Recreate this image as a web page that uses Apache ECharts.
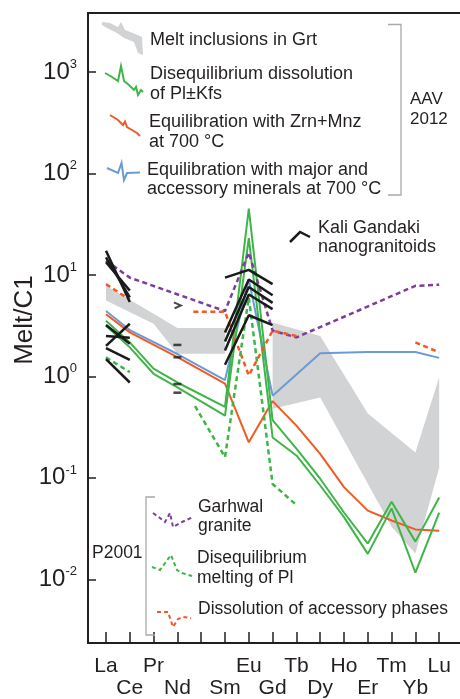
<!DOCTYPE html>
<html><head><meta charset="utf-8">
<script src="https://cdn.jsdelivr.net/npm/echarts@6/dist/echarts.min.js"></script>
<style>html,body{margin:0;padding:0;background:#fff}#c{width:460px;height:699px}</style>
</head><body><div id="c"></div>
<script>
// ---------- categories & ticks ----------
const REE = ['La','Ce','Pr','Nd','','Sm','Eu','Gd','Tb','Dy','Ho','Er','Tm','Yb','Lu'];
const X_TICKS = [0,1,2,3,4,5,6,7,8,9,10,11,12,13,14];
const X_LABELS_TOP_ROW = [0,2,6,8,10,12,14];
const X_LABELS_BOTTOM_ROW = [1,3,5,7,9,11,13];
const Y_TICKS = [0.01,0.1,1,10,100,1000];

// ---------- Melt inclusions in Grt (grey field) ----------
const meltUpperA = [[0,7.8],[2,4.15],[3,3.0],[5,3.0]];
const meltLowerA = [[0,5.6],[2,3.3],[3,1.67],[5,1.67]];
const meltUpperB = [[7,3.4],[9,2.5],[11,0.43],[13,0.178],[14,0.98]];
const meltLowerB = [[7,0.48],[9,0.62],[12,0.033],[13,0.018],[14,0.126]];

// ---------- AAV 2012 models ----------
const greenPlKfsA = [[0,3.54],[1,2.16],[2,1.19],[3,0.87],[5,0.5],[6,45],[7,0.37],[8,0.194],[9,0.098],[10,0.0455],[11,0.0225],[12,0.058],[13,0.0235],[14,0.064]];
const greenPlKfsB = [[0,3.16],[1,1.93],[2,1.06],[3,0.78],[5,0.41],[6,23],[7,0.25],[8,0.166],[9,0.084],[10,0.041],[11,0.0178],[12,0.05],[13,0.0116],[14,0.0455]];
const orangeZrnMnz = [[0,4.1],[1,2.71],[3,1.55],[5,0.85],[6,0.224],[7,0.57],[8,0.327],[9,0.172],[10,0.081],[11,0.0475],[12,0.038],[13,0.031],[14,0.030]];
const blueMajorAcc = [[0,4.4],[1,2.86],[3,1.66],[5,0.92],[6,9.0],[7,0.645],[9,1.69],[11,1.74],[13,1.74],[14,1.52]];

// ---------- P2001 ----------
const purpleGarhwal = [[0,13.8],[1,9.4],[5,4.4],[6,16.6],[7,2.82],[8,2.42],[13,7.8],[14,8.0]];
const greenDashA = [[0,1.54],[1,1.1]];
const greenDashB = [[3.74,0.51],[5,0.16],[6,6.0],[7,0.087],[8,0.054]];
const orangeDashA = [[0,8.1],[1,5.7]];
const orangeDashB = [[3.67,4.33],[5,4.33],[6,1.02],[7,2.82],[8,2.5]];
const orangeDashC = [[13,2.16],[14,1.72]];

// ---------- Kali Gandaki nanogranitoids ----------
const kgLaCe = [
  [[0,17.3],[1,5.4]], [[0,14.9],[1,6.0]], [[0,13.3],[1,7.0]],
  [[0,3.2],[1,2.1]], [[0,2.5],[1,2.4]], [[0,2.0],[1,3.3]],
  [[0,1.9],[1,1.45]], [[0,1.48],[1,0.87]]
];
const kgNd = [[3,2.04],[3,1.54],[3,0.84],[3,0.69]];
const kgNdChevron = [[3,5.0]];
const kgSmEuGd = [
  [[5,9.4],[6,11.2],[7,8.1]],
  [[5,2.7],[6,9.0],[7,6.3]],
  [[5,2.2],[6,7.6],[7,5.3]],
  [[5,1.8],[6,6.4],[7,4.6]],
  [[5,1.3],[6,4.0],[7,3.2]]
];

// ---------- styling ----------
const FONT = 'Liberation Sans, Arial, Helvetica, sans-serif';
const TXT = '#231f20';
const GREEN = '#3fb549', ORANGE = '#f15a24', BLUE = '#6a9bd8', PURPLE = '#7b3f9a', GREY = '#d1d3d4', BLK = '#1a1a1a', BRK = '#a7a9ac';

const bands = [
  {upper: meltUpperA, lower: meltLowerA},
  {upper: meltUpperB, lower: meltLowerB}
];

function ln(data, color, dashed, width, z) {
  return {type:'line', data, symbol:'none', silent:true, animation:false, z: z||3,
    lineStyle:{color, width: width||2, type: dashed ? [5,3.5] : 'solid', cap:'butt'}};
}

const series = [
  {type:'custom', silent:true, animation:false, z:1,
   data:[[0,1],[7,1]],
   renderItem:(params, api) => {
     const b = bands[params.dataIndex];
     const pts = b.upper.map(p=>api.coord(p)).concat(b.lower.slice().reverse().map(p=>api.coord(p)));
     return {type:'polygon', shape:{points:pts}, style:{fill:GREY}};
   }},
  ln(blueMajorAcc, BLUE),
  ln(orangeZrnMnz, ORANGE),
  ln(greenPlKfsA, GREEN),
  ln(greenPlKfsB, GREEN),
  ln(purpleGarhwal, PURPLE, true, 2.5, 4),
  ln(orangeDashA, ORANGE, true, 2.5, 4),
  ln(orangeDashB, ORANGE, true, 2.5, 4),
  ln(orangeDashC, ORANGE, true, 2.5, 4),
  ln(greenDashA, GREEN, true, 2.5, 4),
  ln(greenDashB, GREEN, true, 2.5, 4)
];
kgLaCe.concat(kgSmEuGd).forEach(d => series.push(ln(d, BLK, false, 2.5, 6)));
series.push({type:'scatter', data:kgNd, symbol:'rect', symbolSize:[8,2.5], silent:true, animation:false, z:6, itemStyle:{color:BLK}});
series.push({type:'scatter', data:kgNdChevron, symbol:'path://M0,0L10,4L1,8', symbolSize:[7,6], silent:true, animation:false, z:6,
  itemStyle:{color:'none', borderColor:BLK, borderWidth:2}});

function t(x, y, text, size) {
  return {type:'text', x, y, style:{text, fill:TXT, font: (size||18)+'px '+FONT, verticalAlign:'middle', align:'left'}, z:100};
}
function pl(points, stroke, dashed, w) {
  return {type:'polyline', shape:{points}, style:{stroke, lineWidth: w||2, fill:null, lineDash: dashed?[4,3]:null}, z:100};
}

const graphic = [
  {type:'polygon', shape:{points:[[102,22],[110,23],[118,27],[121,22],[125,30],[133,33],[142,37],[143,55],[138,53],[134,42],[124,38],[117,33],[107,28],[102,25]]}, style:{fill:GREY}, z:100},
  t(150,40.5,'Melt inclusions in Grt'),
  pl([[105,73],[112,77],[118,81],[121,66],[124,81],[129,85],[134,90],[136,87],[138,95],[141,90],[143,92]], GREEN),
  t(150,74,'Disequilibrium dissolution'),
  t(150,94,'of Pl±Kfs'),
  pl([[110,115],[118,120],[123,125],[125,121.5],[127,127],[132,130],[137,133],[140,136]], ORANGE),
  t(149,122,'Equilibration with Zrn+Mnz'),
  t(149,142,'at 700 °C'),
  pl([[107,168],[118,173],[121.5,163],[124,180],[127,173],[140,172.5]], BLUE),
  t(147,170.5,'Equilibration with major and'),
  t(147,189.5,'accessory minerals at 700 °C'),
  pl([[388,24.5],[401,24.5],[401,195],[388,195]], BRK, false, 1.3),
  t(410,99,'AAV',17),
  t(410,119.5,'2012',17),
  pl([[290,242],[300,232],[310,237]], BLK, false, 2.5),
  t(318,228,'Kali Gandaki'),
  t(318,247,'nanogranitoids'),
  pl([[155,497],[146,497],[146,635],[155,635]], BRK, false, 1.3),
  t(92,553,'P2001',17.5),
  pl([[153,513],[160,518],[165,522],[170,513],[173,527],[182,522],[193,517]], PURPLE, true),
  t(198,507,'Garhwal',17.5),
  t(198,526,'granite',17.5),
  pl([[152,567],[160,570],[171,555],[177,570],[182,573],[192,576]], GREEN, true),
  t(197,558,'Disequilibrium',17.5),
  t(197,578,'melting of Pl',17.5),
  pl([[157,612],[168,612],[173,627],[178,619],[183,617],[191,618]], ORANGE, true),
  t(198,609,'Dissolution of accessory phases',17.5)
];

const XMIN = -0.756, XMAX = 14.874;
const xLabelStyle = {hideOverlap:false, showMinLabel:true, showMaxLabel:true, fontSize:21, lineHeight:22, fontFamily:FONT, color:TXT,
  formatter:(v)=>REE[Math.round(v)] || ''};
const option = {
  animation:false,
  backgroundColor:'#fff',
  grid:{left:88, right:0, top:13, bottom:56, containLabel:false, outerBoundsMode:'none'},
  xAxis:[{
    type:'value', min:XMIN, max:XMAX, position:'bottom',
    axisLine:{show:true, onZero:false, lineStyle:{color:TXT, width:2}},
    axisTick:{show:true, inside:true, length:11, customValues:X_TICKS, lineStyle:{color:TXT, width:1.5}},
    splitLine:{show:false},
    axisLabel:Object.assign({customValues:X_LABELS_TOP_ROW, margin:12}, xLabelStyle)
  },{
    type:'value', min:XMIN, max:XMAX, position:'top',
    axisLine:{show:true, onZero:false, lineStyle:{color:TXT, width:2}},
    axisTick:{show:false}, axisLabel:{show:false}, splitLine:{show:false}
  },{
    type:'value', min:XMIN, max:XMAX, position:'bottom',
    axisLine:{show:false, onZero:false}, axisTick:{show:false}, splitLine:{show:false},
    axisLabel:Object.assign({customValues:X_LABELS_BOTTOM_ROW, margin:34}, xLabelStyle)
  }],
  yAxis:{
    type:'log', logBase:10, min:0.002355, max:3811,
    name:'Melt/C1', nameLocation:'middle', nameGap:50, nameMoveOverlap:false,
    nameTextStyle:{fontSize:26, fontFamily:FONT, color:TXT, padding:[0,0,0,16]},
    axisLine:{show:true, onZero:false, lineStyle:{color:TXT, width:2}},
    axisTick:{show:true, inside:true, length:8, customValues:Y_TICKS, lineStyle:{color:TXT, width:1.5}},
    splitLine:{show:false}, minorTick:{show:false},
    axisLabel:{customValues:Y_TICKS, margin:11, color:TXT, fontFamily:FONT, showMinLabel:true, showMaxLabel:true,
      formatter:(v)=>{const e=Math.round(Math.log10(v)); return '{b|10}{s|'+(e<0?'-'+(-e):e)+'}';},
      rich:{b:{fontSize:24, fontFamily:FONT, color:TXT}, s:{fontSize:13, fontFamily:FONT, color:TXT, padding:[0,0,15,0]}}}
  },
  series,
  graphic
};
const chart = echarts.init(document.getElementById('c'), null, {renderer:'canvas'});
chart.setOption(option);
</script></body></html>
